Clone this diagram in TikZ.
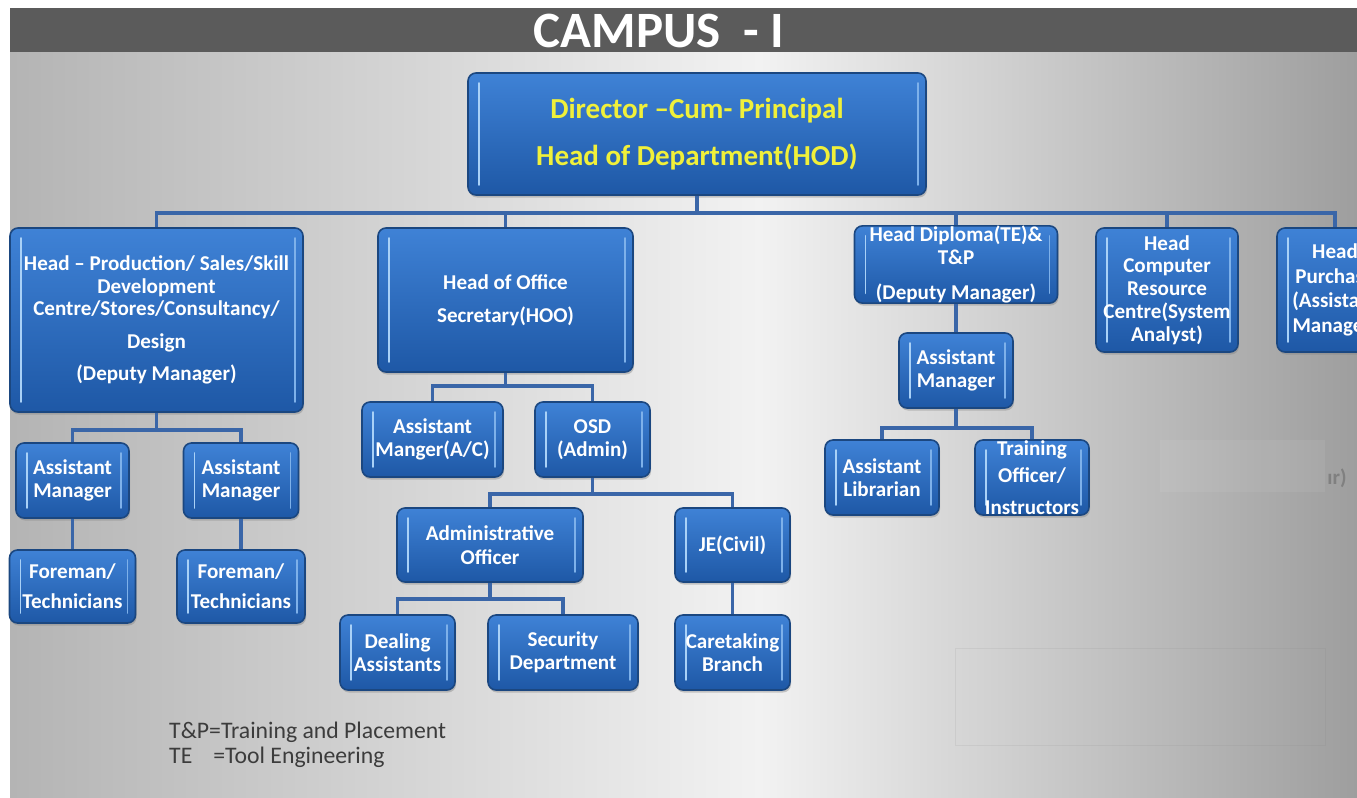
\documentclass[tikz,border=0pt]{standalone}
\usepackage{fontspec}
\setmainfont{Carlito}
\usetikzlibrary{shadows}
\definecolor{boxtop}{HTML}{3F82D6}
\definecolor{boxbot}{HTML}{1E58A6}
\definecolor{boxrim}{HTML}{1B4780}
\definecolor{boxhl}{HTML}{A9D1F7}
\definecolor{linkblue}{HTML}{3A66A8}
\definecolor{barfill}{HTML}{5B5B5B}
\definecolor{hodyellow}{HTML}{F0F03A}
\definecolor{bgside}{HTML}{B4B4B4}
\definecolor{bgright}{HTML}{9E9E9E}
\definecolor{bgmid}{HTML}{F2F2F2}
\definecolor{legendgray}{HTML}{3C3C3C}
\tikzset{box/.style = {rectangle, rounded corners=1.6mm, draw=boxrim, line width=0.9pt,
                       top color=boxtop, bottom color=boxbot, text=white, align=center,
                       inner sep=0pt, font=\fontsize{12}{13}\selectfont\bfseries,
                       drop shadow={shadow xshift=0.2mm, shadow yshift=-0.5mm, opacity=0.4},
                       path picture={
                         \draw [boxhl, line width=1.1pt, line cap=round]
                           ([xshift=2.2mm, yshift=-2mm]path picture bounding box.north west) --
                           ([xshift=2.2mm, yshift=2mm]path picture bounding box.south west);
                         \draw [boxhl!60!boxtop, line width=0.9pt, line cap=round]
                           ([xshift=-1.6mm, yshift=-2mm]path picture bounding box.north east) --
                           ([xshift=-1.6mm, yshift=2mm]path picture bounding box.south east);}},
         link/.style = {draw=linkblue, line width=2.1pt}}

\begin{document}
\begin{tikzpicture}[x=0.2mm, y=-0.2mm]
      \clip (0, 0) rectangle (1357, 798);
      \fill [white] (0, 0) rectangle (1357, 798);
      \shade [left color=bgside, right color=bgmid] (10, 52) rectangle (760, 798);
      \shade [left color=bgmid, right color=bgright] (759, 52) rectangle (1357, 798);
      \fill [barfill] (10, 8) rectangle (1357, 52);
      \node [white, font=\fontsize{29}{30}\selectfont\bfseries] (title) at (659, 31) {CAMPUS\hspace{13pt}- I};

      % faint patches on the right
      \fill [white, opacity=0.06] (1160, 440) rectangle (1325, 492);
      \draw [gray, opacity=0.12] (955, 648) rectangle (1325, 745);
      \node [text=gray, font=\fontsize{12}{14}\selectfont\bfseries] (frag) at (1337, 478) {ır)};

      \node [box, text=hodyellow, font=\fontsize{16.5}{27}\selectfont\bfseries,
             minimum width=91.6mm, minimum height=24.4mm] (dir) at (697, 134)
            {Director –Cum- Principal\\Head of Department(HOD)};

      \node [box, minimum width=58.6mm, minimum height=36.8mm] (prod) at (156.5, 320)
            {Head – Production/ Sales/Skill\\Development\\Centre/Stores/Consultancy/\\[5.5pt]Design\\[5.5pt](Deputy Manager)};
      \node [box, minimum width=51mm, minimum height=28.8mm] (hoo) at (505.5, 300)
            {Head of Office\\[5.8pt]Secretary(HOO)};
      \node [box, minimum width=40.6mm, minimum height=15mm] (dip) at (956, 264.5)
            {Head Diploma(TE)\&\\T\&P\\[7pt](Deputy Manager)};
      \node [box, minimum width=28.4mm, minimum height=24.8mm] (crc) at (1167, 290)
            {Head\\Computer\\Resource\\Centre(System\\Analyst)};
      \node [box, minimum width=23.2mm, minimum height=24.8mm] (pur) at (1335, 290)
            {Head\\[1pt]Purchase\\[1pt](Assistant\\[1pt]Manager)};

      \node [box, minimum width=22.6mm, minimum height=15mm] (am1) at (72.5, 480.5) {Assistant\\Manager};
      \node [box, minimum width=23mm, minimum height=15mm] (am2) at (241, 480.5) {Assistant\\Manager};
      \node [box, minimum width=25.2mm, minimum height=14.6mm] (fore1) at (72.5, 586.5) {Foreman/\\[4pt]Technicians};
      \node [box, minimum width=25.6mm, minimum height=14.6mm] (fore2) at (241, 586.5) {Foreman/\\[4pt]Technicians};

      \node [box, minimum width=28.2mm, minimum height=15mm] (amac) at (432.5, 439.5) {Assistant\\Manger(A/C)};
      \node [box, minimum width=23mm, minimum height=15mm] (osd) at (592.5, 439.5) {OSD\\(Admin)};
      \node [box, minimum width=37.2mm, minimum height=14.8mm] (adm) at (490, 545) {Administrative\\[1pt]Officer};
      \node [box, minimum width=23mm, minimum height=14.8mm] (je) at (732.5, 545) {JE(Civil)};
      \node [box, minimum width=23mm, minimum height=15mm] (deal) at (397.5, 652.5) {Dealing\\Assistants};
      \node [box, minimum width=30mm, minimum height=15mm] (sec) at (563, 652.5) {Security\\Department};
      \node [box, minimum width=23mm, minimum height=15mm] (care) at (732.5, 652.5) {Caretaking\\Branch};

      \node [box, minimum width=22.8mm, minimum height=15mm] (amd) at (956, 370.5) {Assistant\\Manager};
      \node [box, minimum width=22.8mm, minimum height=15mm] (lib) at (882, 477.5) {Assistant\\Librarian};
      \node [box, minimum width=22.8mm, minimum height=15mm] (trn) at (1032, 477.5)
            {Training\\[2.4pt]Officer/\\[5pt]Instructors};

      % connectors
      \path (dir.south) ++(0, 17) coordinate (dirbus);
      \draw [link] (dir.south) -- (dirbus);
      \foreach \n in {prod, hoo, dip, crc, pur}
        \draw [link] (dirbus) -| (\n.north);

      \path (prod.south) ++(0, 17) coordinate (prodbus);
      \draw [link] (prod.south) -- (prodbus);
      \foreach \n in {am1, am2}
        \draw [link] (prodbus) -| (\n.north);
      \draw [link] (am1.south) -- (fore1.north);
      \draw [link] (am2.south) -- (fore2.north);

      \path (hoo.south) ++(0, 13) coordinate (hoobus);
      \draw [link] (hoo.south) -- (hoobus);
      \foreach \n in {amac, osd}
        \draw [link] (hoobus) -| (\n.north);

      \path (osd.south) ++(0, 16) coordinate (osdbus);
      \draw [link] (osd.south) -- (osdbus);
      \foreach \n in {adm, je}
        \draw [link] (osdbus) -| (\n.north);

      \path (adm.south) ++(0, 16) coordinate (admbus);
      \draw [link] (adm.south) -- (admbus);
      \foreach \n in {deal, sec}
        \draw [link] (admbus) -| (\n.north);
      \draw [link] (je.south) -- (care.north);

      \draw [link] (dip.south) -- (amd.north);
      \path (amd.south) ++(0, 19) coordinate (amdbus);
      \draw [link] (amd.south) -- (amdbus);
      \foreach \n in {lib, trn}
        \draw [link] (amdbus) -| (\n.north);

      \node [anchor=west, text=legendgray, font=\fontsize{13.5}{16}\selectfont] (tp) at (163, 732)
            {T\&P=Training and Placement};
      \node [anchor=west, text=legendgray, font=\fontsize{13.5}{16}\selectfont] (te) at (163, 757)
            {TE\hspace{12pt}=Tool Engineering};
    \end{tikzpicture}
\end{document}
